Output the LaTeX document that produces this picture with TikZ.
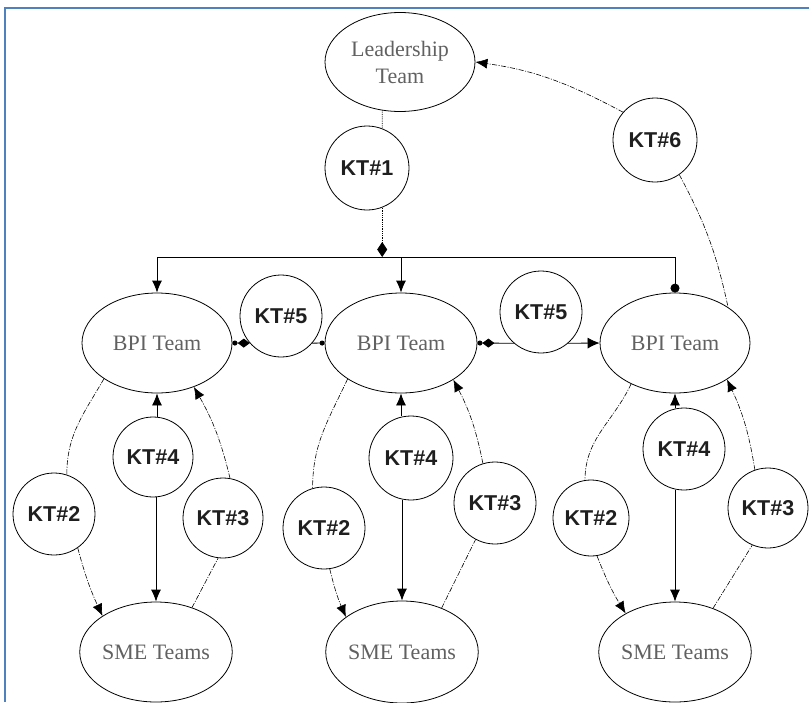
\documentclass[tikz,border=0pt]{standalone}
\usepackage{fontspec}
\setmainfont{Liberation Serif}
\newfontfamily\ktfont{Liberation Sans}
\usetikzlibrary{arrows.meta,shapes.geometric}
\definecolor{framecol}{RGB}{79,129,189}
\begin{document}
\begin{tikzpicture}[x=1pt,y=-1pt,
  ell/.style={ellipse, draw, line width=0.8pt, inner sep=0pt, text=black!62,
    font=\fontsize{22}{27}\selectfont, align=center},
  kt/.style={circle, draw, line width=0.8pt, inner sep=0pt,
    font=\ktfont\bfseries\fontsize{21.5}{24}\selectfont, text=black!88},
  link/.style={line width=0.8pt},
  dd/.style={line width=0.6pt, dash pattern=on 5pt off 1.5pt on 1pt off 1.5pt},
  dots/.style={line width=0.8pt, densely dotted},
  tri/.style={-{Latex[length=12pt,width=10pt]}},
]
\useasboundingbox (0,0) rectangle (809,702);
\draw[framecol, line width=1.5pt] (5,702) -- (5,8) -- (809,8);

% main nodes
\node[ell, minimum width=150pt, minimum height=99pt] (lead) at (400,62) {Leadership\\Team};
\node[kt, minimum size=84pt] (kt1) at (367,168) {KT\#1};
\node[kt, minimum size=84pt] (kt6) at (655,140) {KT\#6};

\node[ell, minimum width=150pt, minimum height=100pt] (bpi1) at (157,343) {BPI Team};
\node[ell, minimum width=152pt, minimum height=100pt] (bpi2) at (401,343) {BPI Team};
\node[ell, minimum width=150pt, minimum height=100pt] (bpi3) at (675,343) {BPI Team};

\node[kt, minimum size=82pt] (kt5a) at (281,316) {KT\#5};
\node[kt, minimum size=82pt] (kt5b) at (541,312) {KT\#5};

% left group
\node[kt, minimum size=80pt] (kt4a) at (153,457) {KT\#4};
\node[kt, minimum size=82pt] (kt2a) at (54,514) {KT\#2};
\node[kt, minimum size=80pt] (kt3a) at (223,518) {KT\#3};
\node[ell, minimum width=148pt, minimum height=100pt] (smeA) at (156,652) {SME Teams};
% middle group
\node[kt, minimum size=84pt] (kt4b) at (411,458) {KT\#4};
\node[kt, minimum size=82pt] (kt2b) at (324,528) {KT\#2};
\node[kt, minimum size=82pt] (kt3b) at (495,503) {KT\#3};
\node[ell, minimum width=150pt, minimum height=102pt] (smeB) at (402,652) {SME Teams};
% right group
\node[kt, minimum size=82pt] (kt4c) at (684,449) {KT\#4};
\node[kt, minimum size=76pt] (kt2c) at (591,518) {KT\#2};
\node[kt, minimum size=80pt] (kt3c) at (768,508) {KT\#3};
\node[ell, minimum width=150pt, minimum height=100pt] (smeC) at (675,652) {SME Teams};

% tree from KT#1
\coordinate (bar) at (401,257);
\draw[dots] (lead.250) -- (kt1.69);
\draw[dots, {Diamond[length=15pt,width=10pt]}-] (kt1.291 |- bar) -- (kt1.291);
\draw[link] (bpi1.north |- bar) -- (bpi3.north |- bar);
\draw[link, tri] (bpi1.north |- bar) -- (bpi1.north);
\draw[link, tri] (bpi2.north |- bar) -- (bpi2.north);
\draw[link, -{Circle[length=9pt]}] (bpi3.north |- bar) -- (bpi3.north);

% KT#5 links
\draw[link, {Circle[length=5pt]}-{Diamond[length=12pt,width=9pt]}] (bpi1.east) -- (kt5a.221);
\draw[link, -{Circle[length=5pt]}] (kt5a.319) -- (bpi2.west);
\draw[link, {Circle[length=5pt] Diamond[length=12pt,width=9pt]}-] (bpi2.east) -- (kt5b.229);
\draw[link, -{Latex[length=12pt,width=11pt]}] (kt5b.311) -- (bpi3.west);

% KT#6
\draw[dd, -{Latex[length=12pt,width=10pt]}] (kt6.139) to[out=152, in=-8] (lead.east);
\draw[dd] (kt6.305) to[bend left=8] (bpi3.34);

% left group links
\draw[dd] (bpi1.214) to[out=240, in=90] (kt2a.72);
\draw[dd, tri] (kt2a.305) to[bend right=5] (smeA.146);
\draw[dd] (smeA.51) -- (kt3a.263);
\draw[dd, tri] (kt3a.80) to[bend right=8] (bpi1.310);
\draw[link, tri] (kt4a.north -| bpi1.south) -- (bpi1.south);
\draw[link, tri] (kt4a.south -| smeA.north) -- (smeA.north);

% middle group links
\draw[dd] (bpi2.214) to[out=245, in=90] (kt2b.106);
\draw[dd, tri] (kt2b.278) to[bend right=5] (smeB.148);
\draw[dd] (smeB.48) -- (kt3b.242);
\draw[dd, tri] (kt3b.107) to[bend right=8] (bpi2.325);
\draw[link, tri] (kt4b.north -| bpi2.south) -- (bpi2.south);
\draw[link, tri] (kt4b.south -| smeB.north) -- (smeB.north);

% right group links
\draw[dd] (bpi3.223) to[out=245, in=90] (kt2c.99);
\draw[dd, tri] (kt2c.279) to[bend right=5] (smeC.142);
\draw[dd] (smeC.49) -- (kt3c.247);
\draw[dd, tri] (kt3c.109) to[bend right=8] (bpi3.325);
\draw[link, tri] (kt4c.north -| bpi3.south) -- (bpi3.south);
\draw[link, tri] (kt4c.south -| smeC.north) -- (smeC.north);
\end{tikzpicture}
\end{document}
